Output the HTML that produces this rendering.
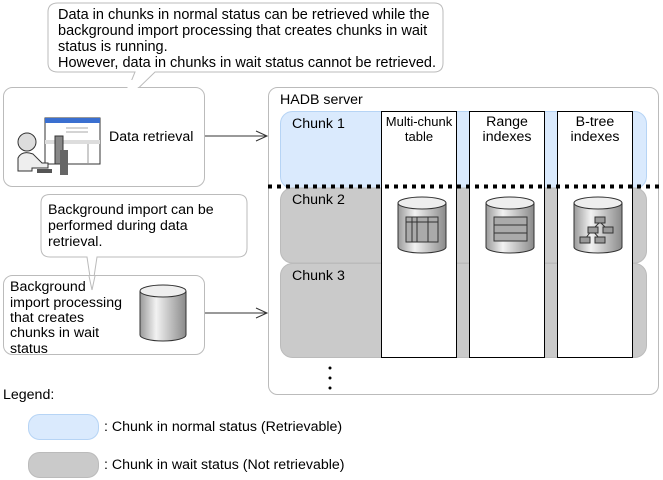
<!DOCTYPE html>
<html><head><meta charset="utf-8"><style>
html,body{margin:0;padding:0;background:#fff;width:663px;height:480px;overflow:hidden}
svg{display:block;font-family:"Liberation Sans",Arial,sans-serif;font-size:14.2px;fill:#000}
</style></head><body>
<svg width="663" height="480" viewBox="0 0 663 480">
<defs>
<linearGradient id="cyl" x1="0" x2="1"><stop offset="0" stop-color="#9a9a9a"/><stop offset="0.35" stop-color="#f2f2f2"/><stop offset="1" stop-color="#8a8a8a"/></linearGradient>
</defs>
<!-- top callout -->
<path d="M58,3 H434 Q443,3 443,12 V63 Q443,72 434,72 H155 L122,104 L135,72 H58 Q48,72 48,63 V12 Q48,3 58,3 Z" fill="#fff" stroke="#bbb"/>
<g font-size="14.5">
<text x="58" y="19">Data in chunks in normal status can be retrieved while the</text>
<text x="58" y="35">background import processing that creates chunks in wait</text>
<text x="58" y="51">status is running.</text>
<text x="58" y="67">However, data in chunks in wait status cannot be retrieved.</text>
</g>

<!-- data retrieval box -->
<rect x="3.5" y="87.5" width="201" height="99" rx="9" fill="#fff" stroke="#bbb"/>
<path d="M122,104 L130,80 L145,80 Z" fill="#fff" stroke="none"/>
<g>
<rect x="45" y="118" width="55" height="46" fill="#fff" stroke="#333"/>
<rect x="45" y="118" width="55" height="5" fill="#3a6fd0"/>
<rect x="45" y="140" width="55" height="4" fill="#ddd"/>
<line x1="66" y1="128" x2="88" y2="128" stroke="#aaa"/>
<line x1="66" y1="132" x2="88" y2="132" stroke="#aaa"/>
<line x1="88" y1="144" x2="88" y2="164" stroke="#999"/>
<rect x="55" y="136" width="8" height="28" fill="#888" stroke="#333"/>
<rect x="60" y="150" width="8" height="25" fill="#666"/>
<circle cx="27" cy="142" r="9" fill="#ddd" stroke="#333"/>
<path d="M18,171 V158 Q22,150 33,154 L42,163 H48 V168 H32 V171 Z" fill="#eee" stroke="#333"/>
<rect x="37" y="169" width="15" height="4" fill="#555"/>
</g>
<text x="109" y="141">Data retrieval</text>

<!-- callout 2 -->
<path d="M50,194.5 H238 Q247,194.5 247,203 V248 Q247,257 238,257 H97 L92,290 L87,257 H50 Q41,257 41,248 V203 Q41,194.5 50,194.5 Z" fill="#fff" stroke="#bbb"/>
<text x="48" y="214">Background import can be</text>
<text x="48" y="230">performed during data</text>
<text x="48" y="246">retrieval.</text>

<!-- background import box -->
<rect x="3.5" y="275.5" width="201" height="79" rx="9" fill="#fff" stroke="#bbb"/>
<path d="M89,276 L92,290 L95,276 Z" fill="#fff"/>
<line x1="89" y1="276" x2="92" y2="290" stroke="#bbb"/><line x1="95" y1="276" x2="92" y2="290" stroke="#bbb"/>
<text x="10" y="291">Background</text>
<text x="10" y="307">import processing</text>
<text x="10" y="322">that creates</text>
<text x="10" y="337">chunks in wait</text>
<text x="10" y="353">status</text>
<path d="M140,291 V335 A23,6 0 0 0 186,335 V291" fill="url(#cyl)" stroke="#333"/>
<ellipse cx="163" cy="291" rx="23" ry="6" fill="#eee" stroke="#333"/>

<!-- arrows -->
<line x1="205" y1="136" x2="267" y2="136" stroke="#333"/>
<path d="M256,131 L267,136 L256,141" fill="none" stroke="#333"/>
<line x1="205" y1="313" x2="267" y2="313" stroke="#333"/>
<path d="M256,308 L267,313 L256,318" fill="none" stroke="#333"/>

<!-- HADB server -->
<rect x="268.5" y="87.5" width="390" height="307" rx="9" fill="#fff" stroke="#bbb"/>
<text x="280" y="104">HADB server</text>
<rect x="280.5" y="111.5" width="366" height="77" rx="12" fill="#daeafd" stroke="#b6d4f5"/>
<rect x="280.5" y="188" width="366" height="75" rx="12" fill="#cacaca" stroke="#bbb"/>
<rect x="280.5" y="263.5" width="366" height="94" rx="12" fill="#cacaca" stroke="#bbb"/>
<text x="292" y="128">Chunk 1</text>
<text x="292" y="204">Chunk 2</text>
<text x="292" y="280">Chunk 3</text>
<rect x="381.5" y="111.5" width="75" height="246" fill="#fff" stroke="#000"/>
<rect x="469.5" y="111.5" width="75" height="246" fill="#fff" stroke="#000"/>
<rect x="557.5" y="111.5" width="75" height="246" fill="#fff" stroke="#000"/>
<text x="419" y="126" text-anchor="middle" font-size="13">Multi-chunk</text>
<text x="419" y="141" text-anchor="middle" font-size="13">table</text>
<text x="507" y="126" text-anchor="middle">Range</text>
<text x="507" y="141" text-anchor="middle">indexes</text>
<text x="595" y="126" text-anchor="middle">B-tree</text>
<text x="595" y="141" text-anchor="middle">indexes</text>
<line x1="268" y1="186.5" x2="660" y2="186.5" stroke="#000" stroke-width="4" stroke-dasharray="4,5"/>
<!-- cylinders -->
<g stroke="#333">
<path d="M398,203 V247 A24,6 0 0 0 446,247 V203" fill="url(#cyl)"/>
<ellipse cx="422" cy="203" rx="24" ry="6" fill="#eee"/>
<rect x="406" y="217" width="32" height="25" fill="#aaa"/>
<line x1="406" y1="222" x2="438" y2="222"/><line x1="412" y1="217" x2="412" y2="242"/><line x1="417" y1="217" x2="417" y2="242"/><line x1="428" y1="217" x2="428" y2="242"/>
<path d="M486,203 V247 A24,6 0 0 0 534,247 V203" fill="url(#cyl)"/>
<ellipse cx="510" cy="203" rx="24" ry="6" fill="#eee"/>
<rect x="494" y="217" width="33" height="24" fill="#aaa"/>
<line x1="494" y1="225" x2="527" y2="225"/><line x1="494" y1="233" x2="527" y2="233"/>
<path d="M574,203 V247 A24,6 0 0 0 622,247 V203" fill="url(#cyl)"/>
<ellipse cx="598" cy="203" rx="24" ry="6" fill="#eee"/>
<line x1="600" y1="222" x2="592" y2="230"/><line x1="600" y1="222" x2="608" y2="230"/><line x1="592" y1="230" x2="585" y2="239"/><line x1="592" y1="230" x2="600" y2="239"/>
<rect x="595" y="217" width="10" height="6" fill="#999"/>
<rect x="588" y="227" width="10" height="6" fill="#999"/><rect x="603" y="227" width="10" height="6" fill="#999"/>
<rect x="580" y="237" width="10" height="6" fill="#999"/><rect x="595" y="237" width="10" height="6" fill="#999"/>
</g>
<circle cx="330" cy="368" r="1.5"/><circle cx="330" cy="378" r="1.5"/><circle cx="330" cy="388" r="1.5"/>

<!-- legend -->
<text x="3" y="399">Legend:</text>
<rect x="28.5" y="414.5" width="70" height="25" rx="11" fill="#daeafd" stroke="#b6d4f5"/>
<text x="104" y="431">: Chunk in normal status (Retrievable)</text>
<rect x="28.5" y="452.5" width="70" height="25" rx="11" fill="#cacaca" stroke="#bbb"/>
<text x="104" y="469">: Chunk in wait status (Not retrievable)</text>
</svg>
</body></html>
